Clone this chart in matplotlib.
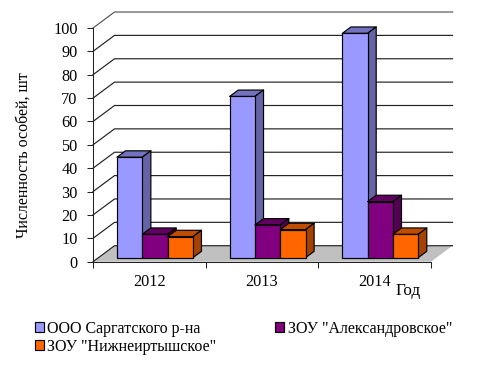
import matplotlib
matplotlib.use("Agg")
import matplotlib.pyplot as plt
from matplotlib.patches import Polygon, Patch

plt.rcParams['font.family'] = ['Liberation Serif', 'DejaVu Serif']

years = ['2012', '2013', '2014']
series_names = ['ООО Саргатского р-на', 'ЗОУ "Александровское"', 'ЗОУ "Нижнеиртышское"']
ooo_values = [43, 69, 96]
alex_values = [10, 14, 24]
nizh_values = [9, 12, 10]
y_ticks = list(range(0, 101, 10))
y_title = 'Численность особей, шт'
x_title = 'Год'

front_colors = ['#9999FF', '#800080', '#FF6600']
side_colors = ['#6464A6', '#530053', '#A64200']
top_colors = ['#7272BE', '#600060', '#BF4C00']
FLOOR = '#C0C0C0'
LINE = '#000000'
W, H = 486, 365
BAR_W = 0.2245
GAP = 0.165
DX, DY = 0.191, 6.84   # full depth of the box in axis units
D0, D1 = 0.25, 0.65    # depth range of the bars

fig = plt.figure(figsize=(W / 100, H / 100), dpi=100, facecolor='white')
ax = fig.add_axes([93 / W, 1 - 261.7 / H, (431 - 93) / W, (261.7 - 28) / H])
ax.set_xlim(0, 3)
ax.set_ylim(0, 100)
ax.patch.set_visible(False)
for name in ('top', 'right'):
    ax.spines[name].set_visible(False)
for name in ('left', 'bottom'):
    ax.spines[name].set_linewidth(0.75)
    ax.spines[name].set_color('#222222')


def proj(x, y, d):
    return (x + d * DX, y + d * DY)


def face(points, color, z):
    ax.add_patch(Polygon([proj(*p) for p in points], closed=True, facecolor=color,
                         edgecolor=LINE, linewidth=0.85, joinstyle='round',
                         clip_on=False, zorder=z))


# floor
ax.add_patch(Polygon([proj(0, 0, 0), proj(3, 0, 0), proj(3, 0, 1), proj(0, 0, 1)], closed=True,
                     facecolor=FLOOR, edgecolor='none', clip_on=False, zorder=1))
# wall gridlines
for v in y_ticks:
    pts = [proj(0, v, 0), proj(0, v, 1), proj(3, v, 1)]
    shade = '#555555' if v == 100 else '#222222'
    ax.plot([p[0] for p in pts], [p[1] for p in pts], color=shade, lw=0.85,
            clip_on=False, zorder=2, solid_joinstyle='miter')

# bars
all_values = [ooo_values, alex_values, nizh_values]
z = 3
for i in range(len(years)):
    for s, values in enumerate(all_values):
        x0 = i + GAP + s * BAR_W
        x1 = x0 + BAR_W
        v = values[i]
        face([(x0, v, D0), (x1, v, D0), (x1, v, D1), (x0, v, D1)], top_colors[s], z)
        face([(x1, 0, D0), (x1, 0, D1), (x1, v, D1), (x1, v, D0)], side_colors[s], z)
        face([(x0, 0, D0), (x1, 0, D0), (x1, v, D0), (x0, v, D0)], front_colors[s], z + 0.5)
        z += 1

ax.set_yticks(y_ticks)
ax.set_xticks([0, 1, 2, 3])
ax.set_xticklabels([])
ax.set_xticks([0.5, 1.5, 2.5], labels=years, minor=True)
ax.tick_params(axis='x', which='minor', length=0, pad=9, labelsize=11.7)
ax.tick_params(axis='x', which='major', length=4, width=0.75, direction='out', color='#222222')
ax.tick_params(axis='y', length=4, width=0.75, direction='out', labelsize=11.7, pad=7, color='#222222')

ax.set_ylabel(y_title, fontsize=11.5, rotation=90, va='center', ha='center')
ax.yaxis.set_label_coords((24 - 93) / (431 - 93), (261.7 - 155.5) / (261.7 - 28))
ax.set_xlabel(x_title, fontsize=12.3, va='center', ha='center')
ax.xaxis.set_label_coords((408 - 93) / (431 - 93), (261.7 - 291) / (261.7 - 28))

order = [0, 2, 1]
handles = [Patch(facecolor=front_colors[k], edgecolor=LINE, linewidth=0.85, label=series_names[k]) for k in order]
fig.legend(handles=handles, ncol=2, loc='upper left',
           bbox_to_anchor=(35 / W, 1 - 321 / H), bbox_transform=fig.transFigure,
           frameon=False, fontsize=11.5, handlelength=0.56, handleheight=0.6,
           handletextpad=0.2, columnspacing=3.7, labelspacing=0.12,
           borderaxespad=0, borderpad=0)

fig.savefig('out.png', dpi=100, facecolor='white')
